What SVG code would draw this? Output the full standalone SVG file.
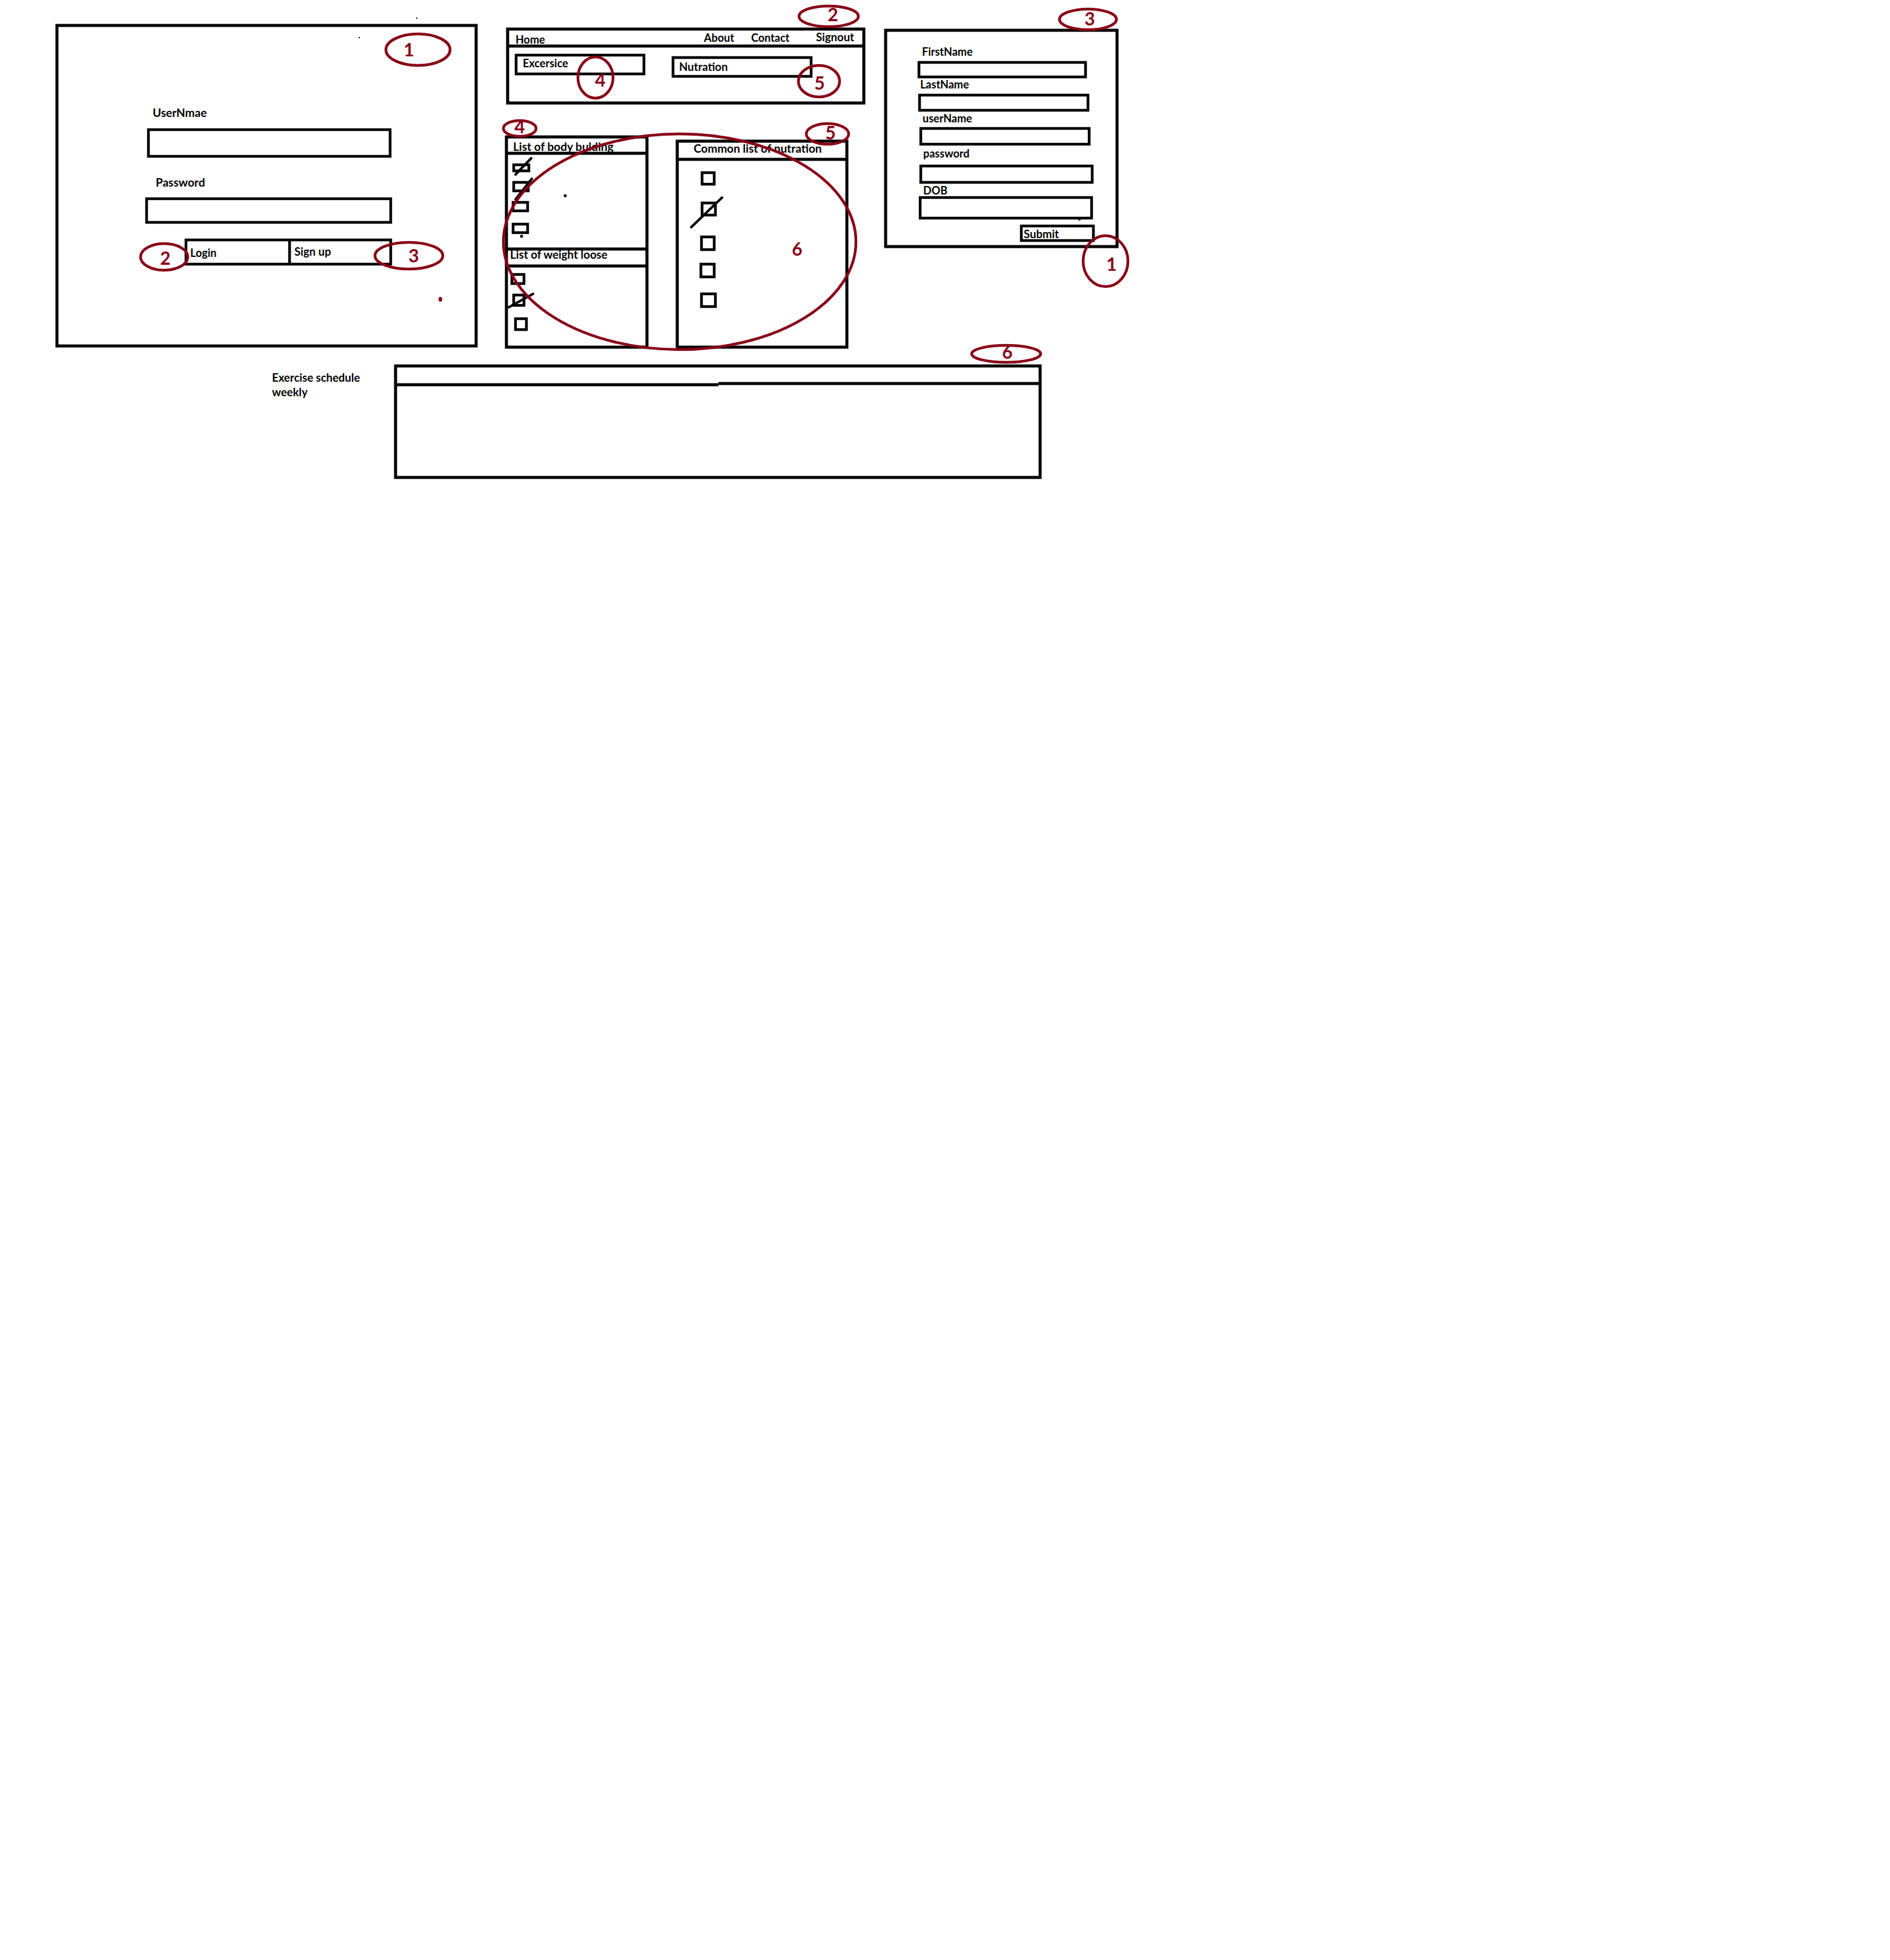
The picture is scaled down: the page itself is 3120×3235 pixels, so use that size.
<svg xmlns="http://www.w3.org/2000/svg" width="3120" height="3235" viewBox="0 0 3120 3235">
  <style>
    .box { fill: none; stroke: #000; stroke-width: 5; }
    .field { fill: none; stroke: #000; stroke-width: 4.5; }
    .chk { fill: none; stroke: #000; stroke-width: 4.5; }
    .tick { stroke: #000; stroke-width: 4; stroke-linecap: round; }
    .mark { fill: none; stroke: #880015; stroke-width: 4.5; }
    .lbl { font-family: Lato, "Open Sans", "Liberation Sans", sans-serif; font-weight: 700; fill: #000; }
    .num { font-family: Lato, "Open Sans", "Liberation Sans", sans-serif; font-weight: 700; fill: #880015; font-size: 30px; text-anchor: middle; }
  </style>
  <rect width="3120" height="3235" fill="#fff"/>

  <!-- Login screen -->
  <g id="login-screen">
    <rect class="box" x="94" y="42" width="692" height="529"/>
    <text class="lbl" x="252" y="193" font-size="19">UserNmae</text>
    <rect class="field" x="245" y="214" width="399" height="44"/>
    <text class="lbl" x="257" y="308" font-size="19">Password</text>
    <rect class="field" x="242" y="328" width="403" height="39"/>
    <rect class="field" x="307" y="396" width="338" height="40"/>
    <line class="field" x1="478" y1="396" x2="478" y2="436"/>
    <text class="lbl" x="314" y="424" font-size="18">Login</text>
    <text class="lbl" x="486" y="422" font-size="18.5">Sign up</text>
    <ellipse class="mark" cx="690" cy="82" rx="53" ry="26"/>
    <text class="num" x="675" y="93">1</text>
    <ellipse class="mark" cx="271" cy="424" rx="39" ry="22"/>
    <text class="num" x="273" y="437">2</text>
    <ellipse class="mark" cx="675" cy="422" rx="56" ry="22"/>
    <text class="num" x="683" y="433">3</text>
    <ellipse cx="727" cy="494" rx="3" ry="4" fill="#880015"/>
    <rect x="592" y="61" width="2" height="2" fill="#000"/>
    <rect x="687" y="29" width="2" height="2" fill="#000"/>
  </g>

  <!-- Home page navigation -->
  <g id="home-page">
    <rect class="box" x="838" y="48" width="588" height="122"/>
    <line class="box" x1="838" y1="76" x2="1428" y2="76"/>
    <text class="lbl" x="851" y="72" font-size="18">Home</text>
    <text class="lbl" x="1162" y="69" font-size="18">About</text>
    <text class="lbl" x="1240" y="69" font-size="18">Contact</text>
    <text class="lbl" x="1347" y="68" font-size="18.5">Signout</text>
    <rect class="field" x="852" y="91" width="211" height="31"/>
    <text class="lbl" x="863" y="111" font-size="18">Excersice</text>
    <rect class="field" x="1111" y="95" width="228" height="31"/>
    <text class="lbl" x="1121" y="117" font-size="18.5">Nutration</text>
    <ellipse class="mark" cx="1368" cy="27" rx="49" ry="17"/>
    <text class="num" x="1375" y="35">2</text>
    <ellipse class="mark" cx="983" cy="128" rx="29" ry="34"/>
    <text class="num" x="991" y="143">4</text>
    <ellipse class="mark" cx="1352" cy="134" rx="34" ry="26"/>
    <text class="num" x="1353" y="148">5</text>
  </g>

  <!-- Exercise lists -->
  <g id="exercise-lists">
    <rect class="box" x="836" y="226" width="232" height="347"/>
    <line class="box" x1="834" y1="253" x2="1068" y2="253"/>
    <text class="lbl" x="847" y="249" font-size="19">List of body bulding</text>
    <line class="box" x1="836" y1="411" x2="1068" y2="411"/>
    <line class="box" x1="836" y1="439" x2="1068" y2="439"/>
    <text class="lbl" x="842" y="427" font-size="18.7">List of weight loose</text>
    <rect class="chk" x="848" y="272" width="25" height="10"/>
    <line class="tick" x1="851" y1="288" x2="877" y2="261"/>
    <rect class="chk" x="848" y="301" width="24" height="14"/>
    <line class="tick" x1="851" y1="329" x2="878" y2="295"/>
    <rect class="chk" x="847" y="334" width="24" height="14"/>
    <rect class="chk" x="847" y="370" width="24" height="14"/>
    <circle cx="861" cy="390" r="2.5" fill="#000"/>
    <circle cx="933" cy="323" r="2.5" fill="#000"/>
    <rect class="chk" x="845" y="453" width="20" height="15"/>
    <rect class="chk" x="848" y="487" width="17" height="17"/>
    <line class="tick" x1="840" y1="507" x2="880" y2="485"/>
    <rect class="chk" x="851" y="526" width="18" height="18"/>
    <ellipse class="mark" cx="858" cy="212" rx="27" ry="13"/>
    <text class="num" x="858" y="220">4</text>
  </g>

  <!-- Nutrition list -->
  <g id="nutrition-list">
    <rect class="box" x="1118" y="233" width="280" height="340"/>
    <line class="box" x1="1118" y1="263" x2="1400" y2="263"/>
    <text class="lbl" x="1145" y="252" font-size="19">Common list of nutration</text>
    <rect class="chk" x="1159" y="285" width="20" height="19"/>
    <rect class="chk" x="1159" y="335" width="22" height="20"/>
    <line class="tick" x1="1141" y1="375" x2="1192" y2="326"/>
    <rect class="chk" x="1158" y="391" width="21" height="21"/>
    <rect class="chk" x="1157" y="436" width="22" height="21"/>
    <rect class="chk" x="1158" y="485" width="23" height="21"/>
    <ellipse class="mark" cx="1366" cy="221" rx="35" ry="17"/>
    <text class="num" x="1371" y="230">5</text>
  </g>

  <!-- Grouping mark around both lists -->
  <g id="lists-mark">
    <ellipse class="mark" cx="1122" cy="399" rx="291" ry="178"/>
    <text class="num" x="1316" y="422">6</text>
  </g>

  <!-- Sign up form -->
  <g id="signup-form">
    <rect class="box" x="1462" y="50" width="382" height="357"/>
    <text class="lbl" x="1522" y="92" font-size="18">FirstName</text>
    <rect class="field" x="1517" y="103" width="275" height="24"/>
    <text class="lbl" x="1519" y="146" font-size="18">LastName</text>
    <rect class="field" x="1518" y="157" width="278" height="25"/>
    <text class="lbl" x="1523" y="202" font-size="18">userName</text>
    <rect class="field" x="1520" y="212" width="278" height="26"/>
    <text class="lbl" x="1524" y="260" font-size="18">password</text>
    <rect class="field" x="1520" y="274" width="283" height="27"/>
    <text class="lbl" x="1524" y="321" font-size="18">DOB</text>
    <rect class="field" x="1519" y="326" width="283" height="34"/>
    <circle cx="1782" cy="362" r="2" fill="#000"/>
    <rect class="field" x="1686" y="373" width="119" height="24"/>
    <text class="lbl" x="1690" y="393" font-size="18.5">Submit</text>
    <ellipse class="mark" cx="1796" cy="32" rx="47" ry="17"/>
    <text class="num" x="1799" y="42">3</text>
    <ellipse class="mark" cx="1825" cy="431" rx="37" ry="42"/>
    <text class="num" x="1835" y="447">1</text>
  </g>

  <!-- Weekly exercise schedule -->
  <g id="schedule">
    <text class="lbl" x="449" y="630" font-size="18.5">Exercise schedule</text>
    <text class="lbl" x="449" y="654" font-size="18.5">weekly</text>
    <rect class="box" x="653" y="604" width="1064" height="184"/>
    <line class="box" x1="651" y1="635" x2="1186" y2="635"/>
    <line class="box" x1="1186" y1="633" x2="1719" y2="633"/>
    <ellipse class="mark" cx="1661" cy="584" rx="57" ry="14"/>
    <text class="num" x="1663" y="592" font-size="24">6</text>
  </g>

  <!-- No connectors are drawn between the screens -->
  <g id="connectors"/>
</svg>
